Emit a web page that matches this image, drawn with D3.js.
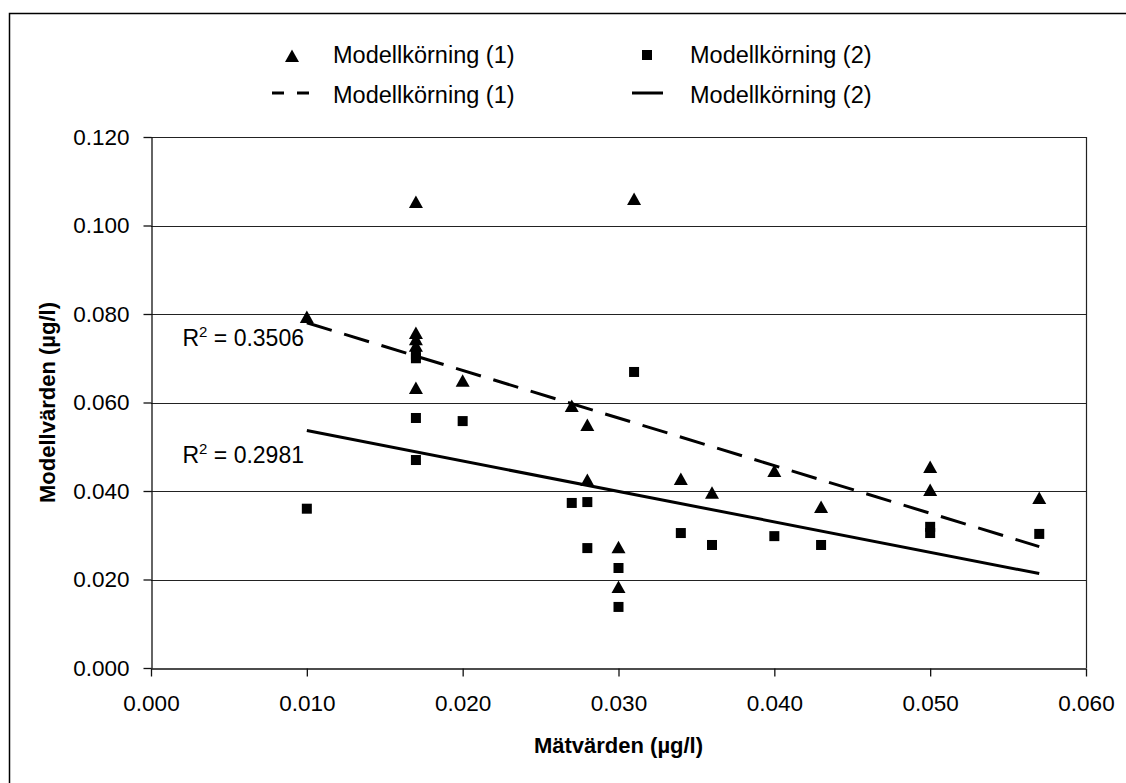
<!DOCTYPE html>
<html>
<head>
<meta charset="utf-8">
<script src="https://cdn.jsdelivr.net/npm/d3@7"></script>
<style>
  html, body { margin: 0; padding: 0; background: #fff; }
  svg { display: block; font-family: "Liberation Sans", Arial, sans-serif; }
</style>
</head>
<body>
<script>
"use strict";
const WIDTH = 1126;
const HEIGHT = 783;
const PLOT = { left: 151, right: 1086, top: 137, bottom: 668 };

// Mätvärden (x) and Modellvärden (y), µg/l
const measured1 = [0.010, 0.017, 0.017, 0.017, 0.017, 0.017, 0.020, 0.027, 0.028, 0.028,
                   0.030, 0.030, 0.031, 0.034, 0.036, 0.040, 0.043, 0.050, 0.050, 0.057];
const model1 = [0.0793, 0.1053, 0.0757, 0.0743, 0.0728, 0.0633, 0.0649, 0.0592, 0.0549, 0.0425,
                0.0273, 0.0183, 0.1060, 0.0427, 0.0396, 0.0445, 0.0364, 0.0454, 0.0402, 0.0384];
const measured2 = [0.010, 0.017, 0.017, 0.017, 0.017, 0.020, 0.027, 0.028, 0.028,
                   0.030, 0.030, 0.031, 0.034, 0.036, 0.040, 0.043, 0.050, 0.050, 0.057];
const model2 = [0.0360, 0.0708, 0.0700, 0.0565, 0.0470, 0.0558, 0.0373, 0.0375, 0.0271,
                0.0226, 0.0138, 0.0669, 0.0305, 0.0278, 0.0298, 0.0278, 0.0319, 0.0305, 0.0303];

const xTicks = [0, 0.01, 0.02, 0.03, 0.04, 0.05, 0.06];
const yTicks = [0, 0.02, 0.04, 0.06, 0.08, 0.10, 0.12];
const seriesNames = ["Modellkörning (1)", "Modellkörning (2)"];
const rSquared = ["0.3506", "0.2981"];

function linearFit(xs, ys) {
    const n = xs.length;
    const mx = d3.mean(xs), my = d3.mean(ys);
    let sxy = 0, sxx = 0;
    for (let i = 0; i < n; i++) {
        sxy += (xs[i] - mx) * (ys[i] - my);
        sxx += (xs[i] - mx) * (xs[i] - mx);
    }
    const slope = sxy / sxx;
    const intercept = my - slope * mx;
    const x0 = d3.min(xs), x1 = d3.max(xs);
    return [[x0, intercept + slope * x0], [x1, intercept + slope * x1]];
}

const svg = d3.select("body").append("svg")
    .attr("width", WIDTH)
    .attr("height", HEIGHT);

// chart frame (runs past the right and bottom edge)
svg.append("rect")
    .attr("x", 9.5).attr("y", 13.5)
    .attr("width", 1140).attr("height", 800)
    .attr("fill", "#fff")
    .attr("stroke", "#000")
    .attr("stroke-width", 1.5);

const x = d3.scaleLinear().domain([0, 0.06]).range([PLOT.left, PLOT.right]);
const y = d3.scaleLinear().domain([0, 0.12]).range([PLOT.bottom, PLOT.top]);

// gridlines
svg.append("g")
    .selectAll("line")
    .data(yTicks.slice(1))
    .enter()
    .append("line")
    .attr("x1", PLOT.left).attr("x2", PLOT.right)
    .attr("y1", d => Math.round(y(d)) + 0.5)
    .attr("y2", d => Math.round(y(d)) + 0.5)
    .attr("stroke", "#222")
    .attr("stroke-width", 1.2);

// right border of plot area
svg.append("line")
    .attr("x1", PLOT.right + 0.5).attr("x2", PLOT.right + 0.5)
    .attr("y1", PLOT.top).attr("y2", PLOT.bottom)
    .attr("stroke", "#222")
    .attr("stroke-width", 1.2);

const fmt = d3.format(".3f");

const xAxis = svg.append("g")
    .attr("transform", "translate(0," + (PLOT.bottom + 0.5) + ")")
    .call(d3.axisBottom(x).tickValues(xTicks).tickFormat(fmt).tickSize(8).tickPadding(19).tickSizeOuter(0));

const yAxis = svg.append("g")
    .attr("transform", "translate(" + (PLOT.left + 0.5) + ",0)")
    .call(d3.axisLeft(y).tickValues(yTicks).tickFormat(fmt).tickSize(8).tickPadding(14).tickSizeOuter(0));

[xAxis, yAxis].forEach(function (g) {
    g.selectAll("path, line").attr("stroke", "#111").attr("stroke-width", 1.3);
    g.selectAll("text")
        .attr("fill", "#000")
        .style("font-size", "22.5px")
        .style("font-family", "'Liberation Sans', Arial, sans-serif");
});

// axis titles
svg.append("text")
    .attr("x", (PLOT.left + PLOT.right) / 2)
    .attr("y", 753)
    .attr("text-anchor", "middle")
    .style("font-size", "22px")
    .style("font-weight", "bold")
    .text("Mätvärden (µg/l)");

svg.append("text")
    .attr("transform", "translate(55," + ((PLOT.top + PLOT.bottom) / 2) + ") rotate(-90)")
    .attr("text-anchor", "middle")
    .style("font-size", "22px")
    .style("font-weight", "bold")
    .text("Modellvärden (µg/l)");

const TRIANGLE = "M0,-6.5L7,6L-7,6Z";

// markers
svg.append("g")
    .selectAll("path")
    .data(d3.zip(measured1, model1))
    .enter()
    .append("path")
    .attr("d", TRIANGLE)
    .attr("transform", d => "translate(" + x(d[0]) + "," + y(d[1]) + ")")
    .attr("fill", "#000");

svg.append("g")
    .selectAll("rect")
    .data(d3.zip(measured2, model2))
    .enter()
    .append("rect")
    .attr("x", d => x(d[0]) - 5)
    .attr("y", d => y(d[1]) - 5)
    .attr("width", 10)
    .attr("height", 10)
    .attr("fill", "#000");

// trendlines
const line = d3.line().x(d => x(d[0])).y(d => y(d[1]));

svg.append("path")
    .attr("d", line(linearFit(measured1, model1)))
    .attr("fill", "none")
    .attr("stroke", "#000")
    .attr("stroke-width", 3)
    .attr("stroke-dasharray", "26,13");

svg.append("path")
    .attr("d", line(linearFit(measured2, model2)))
    .attr("fill", "none")
    .attr("stroke", "#000")
    .attr("stroke-width", 3);

// R² labels
function rLabel(yPos, value) {
    const t = svg.append("text")
        .attr("x", 304).attr("y", yPos)
        .attr("text-anchor", "end")
        .style("font-size", "23px");
    t.append("tspan").text("R");
    t.append("tspan").attr("dy", -9).style("font-size", "15px").text("2");
    t.append("tspan").attr("dy", 9).text(" = " + value);
}
rLabel(346, rSquared[0]);
rLabel(463, rSquared[1]);

// legend
const legend = svg.append("g");

legend.append("path")
    .attr("d", TRIANGLE)
    .attr("transform", "translate(292,56)")
    .attr("fill", "#000");

legend.append("rect")
    .attr("x", 642).attr("y", 50)
    .attr("width", 10).attr("height", 10)
    .attr("fill", "#000");

legend.append("line")
    .attr("x1", 272).attr("x2", 309)
    .attr("y1", 93).attr("y2", 93)
    .attr("stroke", "#000")
    .attr("stroke-width", 3)
    .attr("stroke-dasharray", "12,13");

legend.append("line")
    .attr("x1", 632).attr("x2", 663)
    .attr("y1", 93).attr("y2", 93)
    .attr("stroke", "#000")
    .attr("stroke-width", 3);

const legendText = [
    { x: 333, y: 63, t: seriesNames[0] },
    { x: 690, y: 63, t: seriesNames[1] },
    { x: 333, y: 103, t: seriesNames[0] },
    { x: 690, y: 103, t: seriesNames[1] }
];

legend.selectAll("text")
    .data(legendText)
    .enter()
    .append("text")
    .attr("x", d => d.x)
    .attr("y", d => d.y)
    .style("font-size", "23.5px")
    .text(d => d.t);
</script>
</body>
</html>
